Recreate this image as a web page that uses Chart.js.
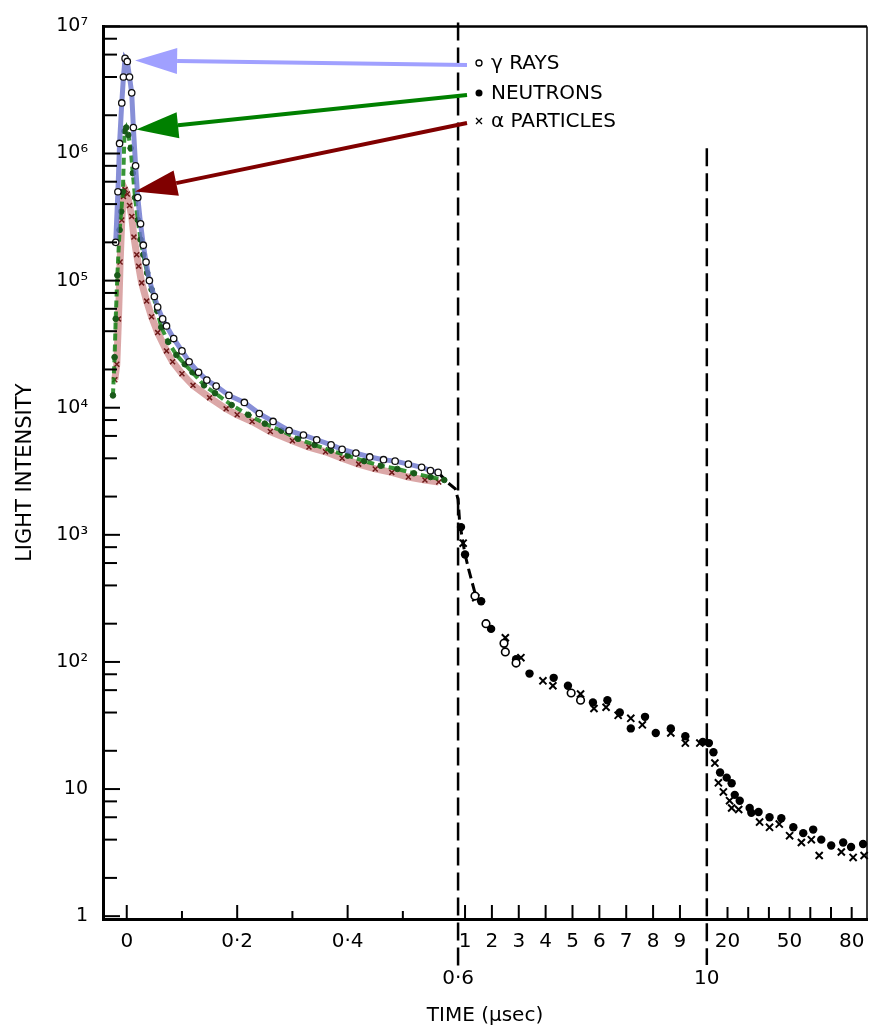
<!DOCTYPE html>
<html>
<head>
<meta charset="utf-8">
<title>Light intensity vs time</title>
<script src="https://cdn.jsdelivr.net/npm/chart.js@4.4.1/dist/chart.umd.min.js"></script>
<style>
  html, body { margin: 0; padding: 0; background: #fff; }
  #chart { display: block; }
</style>
</head>
<body>
<canvas id="chart" width="874" height="1034"></canvas>
<script>
// --- data (time in µs, light intensity) ---

// first 0.6 µs, traced with coloured lines
const gammaEarlyTime = [-0.02, -0.016, -0.013, -0.009, -0.006, -0.003, 0.001, 0.005, 0.009, 0.012, 0.016, 0.02, 0.025, 0.03, 0.035, 0.041, 0.05, 0.056, 0.065, 0.072, 0.085, 0.1, 0.113, 0.13, 0.145, 0.162, 0.185, 0.213, 0.24, 0.265, 0.294, 0.32, 0.344, 0.37, 0.39, 0.415, 0.44, 0.465, 0.486, 0.51, 0.534, 0.55, 0.564];
const gammaEarlyLight = [2e5, 5e5, 1.2e6, 2.5e6, 4e6, 5.6e6, 5.3e6, 4e6, 3e6, 1.6e6, 8e5, 4.5e5, 2.8e5, 1.9e5, 1.4e5, 1.0e5, 7.5e4, 6.2e4, 5e4, 4.4e4, 3.5e4, 2.8e4, 2.3e4, 1.9e4, 1.65e4, 1.48e4, 1.25e4, 1.1e4, 9e3, 7.8e3, 6.6e3, 6.1e3, 5.6e3, 5.1e3, 4.7e3, 4.4e3, 4.1e3, 3.9e3, 3.8e3, 3.6e3, 3.4e3, 3.2e3, 3.1e3];

const neutronEarlyTime = [-0.025, -0.022, -0.02, -0.017, -0.013, -0.01, -0.007, -0.004, -0.001, 0.003, 0.007, 0.011, 0.015, 0.02, 0.025, 0.03, 0.037, 0.045, 0.055, 0.0625, 0.075, 0.09, 0.105, 0.119, 0.14, 0.16, 0.19, 0.22, 0.25, 0.28, 0.31, 0.34, 0.37, 0.4, 0.43, 0.46, 0.49, 0.52, 0.55, 0.575];
const neutronEarlyLight = [1.25e4, 2.5e4, 5e4, 1.1e5, 2.5e5, 3.5e5, 5e5, 1.5e6, 1.6e6, 1.4e6, 1.1e6, 7e5, 4.5e5, 3e5, 2.1e5, 1.6e5, 1.15e5, 8.5e4, 5.8e4, 4.3e4, 3.3e4, 2.6e4, 2.2e4, 1.9e4, 1.5e4, 1.3e4, 1.05e4, 8.8e3, 7.5e3, 6.6e3, 5.7e3, 5.1e3, 4.6e3, 4.2e3, 3.8e3, 3.5e3, 3.3e3, 3.05e3, 2.85e3, 2.7e3];

const alphaEarlyTime = [-0.0216, -0.018, -0.015, -0.012, -0.009, -0.006, -0.003, 0.001, 0.005, 0.009, 0.013, 0.018, 0.0216, 0.027, 0.036, 0.045, 0.056, 0.072, 0.083, 0.1, 0.12, 0.15, 0.18, 0.2, 0.227, 0.26, 0.3, 0.33, 0.36, 0.39, 0.42, 0.45, 0.48, 0.51, 0.54, 0.565];
const alphaEarlyLight = [1.66e4, 2.2e4, 5e4, 1.4e5, 3e5, 4.6e5, 5.2e5, 4.8e5, 3.9e5, 3.2e5, 2.2e5, 1.6e5, 1.3e5, 9.6e4, 6.9e4, 5.2e4, 3.9e4, 2.8e4, 2.3e4, 1.85e4, 1.5e4, 1.2e4, 9.8e3, 8.8e3, 7.8e3, 6.5e3, 5.5e3, 4.9e3, 4.5e3, 4.0e3, 3.6e3, 3.3e3, 3.1e3, 2.85e3, 2.7e3, 2.6e3];

// black trace across the first break
const traceTime = [0.564, 0.58, 0.595, 0.6, 0.8, 1.0, 1.15, 1.4];
const traceLight = [3.1e3, 2.6e3, 2.3e3, 1.9e3, 1.25e3, 700, 520, 330];

// after 0.6 µs, points only
const gammaLateTime = [1.37, 1.78, 2.45, 2.5, 2.9, 4.95, 5.3];
const gammaLateLight = [330, 200, 140, 120, 98, 57, 50];

const neutronLateTime = [0.85, 1.0, 1.6, 1.97, 2.9, 3.4, 4.3, 4.83, 5.76, 6.3, 6.76, 7.17, 7.7, 8.1, 8.66, 9.2, 9.85, 11, 13.2, 16.4, 19.6, 22, 23.5, 25.9, 30.7, 31.5, 35, 40.3, 46, 51.8, 56.6, 61.4, 65.3, 70.1, 75.9, 79.7, 85.5];
const neutronLateLight = [1150, 700, 300, 182, 105, 81, 75, 65, 48, 50, 40, 30, 37, 27.6, 30, 26, 23.5, 23, 19.5, 13.5, 12.3, 11.1, 9, 8.1, 7.1, 6.5, 6.6, 6, 5.9, 5, 4.5, 4.8, 4, 3.6, 3.8, 3.5, 3.7];

const alphaLateTime = [0.93, 1.4, 2.5, 3.08, 3.9, 4.27, 5.3, 5.8, 6.25, 6.7, 7.17, 7.6, 8.66, 9.2, 9.74, 13.9, 15.6, 18, 21, 22, 25.4, 35.5, 40.3, 45, 50, 55.7, 60.5, 64.3, 75, 80.7, 86];
const alphaLateLight = [860, 320, 155, 108, 71, 65, 56, 43, 44, 38, 36, 32, 27.6, 23, 23, 16, 11.2, 9.5, 8.1, 7.1, 6.9, 5.5, 5, 5.3, 4.3, 3.8, 4, 3.0, 3.2, 2.9, 3.0];

const seriesNames = ['γ RAYS', 'NEUTRONS', 'α PARTICLES'];

// axis ticks
const xTickValues = [0, 0.1, 0.2, 0.3, 0.4, 0.5, 0.6, 1, 2, 3, 4, 5, 6, 7, 8, 9, 10, 20, 30, 40, 50, 60, 70, 80];
const xTickLabels = ['0', '', '0·2', '', '0·4', '', ['', '0·6'], '1', '2', '3', '4', '5', '6', '7', '8', '9', ['', '10'], '20', '', '', '50', '', '', '80'];
const xMinorTicks = [0.1, 0.3, 0.5];
const xBreaks = [0.6, 10];
const yTickValues = [1, 2, 4, 6, 8, 10, 20, 40, 60, 80, 100, 200, 400, 600, 800, 1e3, 2e3, 4e3, 6e3, 8e3, 1e4, 2e4, 4e4, 6e4, 8e4, 1e5, 2e5, 4e5, 6e5, 8e5, 1e6, 2e6, 4e6, 6e6, 8e6, 1e7];
const yDecadeLabels = ['1', '10', '10²', '10³', '10⁴', '10⁵', '10⁶', '10⁷'];

// --- broken time axis: 0-0.6 µs, 1-10 µs and 10-87 µs each on their own linear stretch ---
const X_MIN = -0.043;
const X_MAX = 87.4;
const EARLY_RATE = 555;   // px per µs up to 0.6
const MID_RATE = 27;      // px per µs from 1 to 10
const LATE_RATE = 2.08;   // px per µs after 10
const BREAK1_U = (0.6 - X_MIN) * EARLY_RATE;
const ONE_U = BREAK1_U + 7;
const TEN_U = ONE_U + 9 * MID_RATE;

function timeToU(t) {
  if (t <= 0.6) return (t - X_MIN) * EARLY_RATE;
  if (t <= 10) return ONE_U + (t - 1) * MID_RATE;
  return TEN_U + (t - 10) * LATE_RATE;
}

function uToTime(u) {
  if (u <= BREAK1_U) return u / EARLY_RATE + X_MIN;
  if (u <= TEN_U) return 1 + (u - ONE_U) / MID_RATE;
  return 10 + (u - TEN_U) / LATE_RATE;
}

class BrokenTimeScale extends Chart.LinearScale {
  static id = 'brokenTime';
  determineDataLimits() {
    this.min = timeToU(X_MIN);
    this.max = timeToU(X_MAX);
  }
  buildTicks() {
    this.start = this.min;
    this.end = this.max;
    return xTickValues.map(v => ({ value: v }));
  }
  getPixelForValue(value) {
    return super.getPixelForValue(timeToU(value));
  }
  getValueForPixel(pixel) {
    return uToTime(super.getValueForPixel(pixel));
  }
}
Chart.register(BrokenTimeScale);

const FONT = "'DejaVu Sans', sans-serif";

function points(times, values) {
  return times.map((t, i) => ({ x: t, y: values[i] }));
}

function peakOf(times, values) {
  let k = 0;
  values.forEach((v, i) => { if (v > values[k]) k = i; });
  return { x: times[k], y: values[k] };
}

// inward tick marks, top/right frame and the dashed break lines
const frameAndBreaks = {
  id: 'frameAndBreaks',
  afterDatasetsDraw(chart) {
    const { ctx, chartArea: a, scales: { x, y } } = chart;
    ctx.save();
    ctx.strokeStyle = '#000';
    ctx.lineWidth = 2.5;
    ctx.beginPath();
    ctx.moveTo(a.left, a.top);
    ctx.lineTo(a.right, a.top);
    ctx.stroke();
    ctx.lineWidth = 1.5;
    ctx.beginPath();
    ctx.moveTo(a.right, a.top);
    ctx.lineTo(a.right, a.bottom);
    ctx.stroke();

    ctx.lineWidth = 2;
    y.ticks.forEach(t => {
      const py = y.getPixelForValue(t.value);
      const d = Math.round(Math.log10(t.value));
      const len = Math.abs(t.value - Math.pow(10, d)) < 1e-6 * t.value ? 17 : 14;
      ctx.beginPath();
      ctx.moveTo(a.left, py);
      ctx.lineTo(a.left + len, py);
      ctx.stroke();
    });
    x.ticks.forEach(t => {
      if (xBreaks.includes(t.value)) return;
      const px = x.getPixelForValue(t.value);
      const len = xMinorTicks.includes(t.value) ? 8 : (t.value > 10 ? 12 : 14);
      ctx.beginPath();
      ctx.moveTo(px, a.bottom);
      ctx.lineTo(px, a.bottom - len);
      ctx.stroke();
    });

    ctx.setLineDash([18, 7]);
    ctx.lineWidth = 2.5;
    const b1 = x.getPixelForValue(xBreaks[0]);
    ctx.beginPath();
    ctx.moveTo(b1, a.top - 4);
    ctx.lineTo(b1, a.bottom + 50);
    ctx.stroke();
    const b2 = x.getPixelForValue(xBreaks[1]);
    ctx.beginPath();
    ctx.moveTo(b2, y.getPixelForValue(1.1e6));
    ctx.lineTo(b2, a.bottom + 46);
    ctx.stroke();
    ctx.restore();
  }
};

// legend next to the first break with arrows pointing at each peak
const legendArrows = {
  id: 'legendArrows',
  afterDraw(chart) {
    const { ctx, scales: { x, y } } = chart;
    const peaks = [
      peakOf(gammaEarlyTime, gammaEarlyLight),
      peakOf(neutronEarlyTime, neutronEarlyLight),
      peakOf(alphaEarlyTime, alphaEarlyLight)
    ];
    const arrowColors = ['rgb(160,160,255)', 'rgb(0,128,0)', 'rgb(128,0,0)'];
    const legendX = 479;
    const rowY = [63, 93, 121];

    ctx.save();
    peaks.forEach((p, i) => {
      const tipX = x.getPixelForValue(p.x) + 10;
      const tipY = y.getPixelForValue(p.y) + 2;
      const sx = legendX - 12, sy = rowY[i] + 2;
      const dx = sx - tipX, dy = sy - tipY;
      const len = Math.hypot(dx, dy);
      const ux = dx / len, uy = dy / len;
      const bx = tipX + ux * 42, by = tipY + uy * 42;
      ctx.strokeStyle = arrowColors[i];
      ctx.fillStyle = arrowColors[i];
      ctx.lineWidth = 4;
      ctx.beginPath();
      ctx.moveTo(sx, sy);
      ctx.lineTo(bx, by);
      ctx.stroke();
      ctx.beginPath();
      ctx.moveTo(tipX, tipY);
      ctx.lineTo(bx - uy * 13, by + ux * 13);
      ctx.lineTo(bx + uy * 13, by - ux * 13);
      ctx.closePath();
      ctx.fill();
    });

    ctx.fillStyle = '#000';
    ctx.strokeStyle = '#000';
    ctx.lineWidth = 1.3;
    // open circle
    ctx.beginPath();
    ctx.arc(legendX, rowY[0], 3, 0, Math.PI * 2);
    ctx.stroke();
    // dot
    ctx.beginPath();
    ctx.arc(legendX, rowY[1], 3.5, 0, Math.PI * 2);
    ctx.fill();
    // cross
    ctx.beginPath();
    ctx.moveTo(legendX - 3, rowY[2] - 3);
    ctx.lineTo(legendX + 3, rowY[2] + 3);
    ctx.moveTo(legendX + 3, rowY[2] - 3);
    ctx.lineTo(legendX - 3, rowY[2] + 3);
    ctx.stroke();

    ctx.font = '20px ' + FONT;
    ctx.textBaseline = 'middle';
    ctx.textAlign = 'left';
    seriesNames.forEach((name, i) => ctx.fillText(name, legendX + 12, rowY[i] + 1));
    ctx.restore();
  }
};

const ctx = document.getElementById('chart').getContext('2d');
new Chart(ctx, {
  type: 'line',
  data: {
    datasets: [
      {
        label: seriesNames[0],
        data: points(gammaEarlyTime, gammaEarlyLight),
        borderColor: 'rgba(105,115,205,0.8)',
        borderWidth: 5,
        pointStyle: 'circle',
        pointRadius: 3.2,
        pointBorderWidth: 1.3,
        pointBorderColor: '#111',
        pointBackgroundColor: '#fff'
      },
      {
        label: seriesNames[1],
        data: points(neutronEarlyTime, neutronEarlyLight),
        borderColor: 'rgba(20,130,20,0.85)',
        borderWidth: 4,
        borderDash: [7, 4],
        pointStyle: 'circle',
        pointRadius: 2.8,
        pointBorderWidth: 1,
        pointBorderColor: 'rgb(25,90,25)',
        pointBackgroundColor: 'rgb(25,90,25)'
      },
      {
        label: seriesNames[2],
        data: points(alphaEarlyTime, alphaEarlyLight),
        borderColor: 'rgba(190,95,95,0.55)',
        borderWidth: 7,
        pointStyle: 'crossRot',
        pointRadius: 3.5,
        pointBorderWidth: 1.5,
        pointBorderColor: 'rgb(110,25,25)'
      },
      {
        label: 'trace',
        data: points(traceTime, traceLight),
        borderColor: '#000',
        borderWidth: 3,
        borderDash: [10, 5],
        pointRadius: 0
      },
      {
        label: seriesNames[0] + ' late',
        data: points(gammaLateTime, gammaLateLight),
        showLine: false,
        pointStyle: 'circle',
        pointRadius: 3.8,
        pointBorderWidth: 1.6,
        pointBorderColor: '#000',
        pointBackgroundColor: '#fff'
      },
      {
        label: seriesNames[1] + ' late',
        data: points(neutronLateTime, neutronLateLight),
        showLine: false,
        pointStyle: 'circle',
        pointRadius: 4.2,
        pointBorderWidth: 0,
        pointBackgroundColor: '#000'
      },
      {
        label: seriesNames[2] + ' late',
        data: points(alphaLateTime, alphaLateLight),
        showLine: false,
        pointStyle: 'crossRot',
        pointRadius: 5,
        pointBorderWidth: 2,
        pointBorderColor: '#000'
      }
    ]
  },
  options: {
    responsive: false,
    animation: false,
    devicePixelRatio: 1,
    layout: { padding: { top: 21, right: 3, left: 0, bottom: 0 } },
    plugins: {
      legend: { display: false },
      tooltip: { enabled: false }
    },
    scales: {
      x: {
        type: 'brokenTime',
        position: 'bottom',
        grid: { display: false, drawTicks: false },
        border: { display: true, color: '#000', width: 3 },
        ticks: {
          autoSkip: false,
          maxRotation: 0,
          minRotation: 0,
          padding: 4,
          color: '#000',
          font: { family: FONT, size: 20, lineHeight: '37px' },
          callback: (value, index) => xTickLabels[index]
        },
        title: {
          display: true,
          text: 'TIME (µsec)',
          color: '#000',
          font: { family: FONT, size: 20 },
          padding: { top: 0, bottom: 6 }
        },
        afterFit: (scale) => { scale.height = 115; }
      },
      y: {
        type: 'logarithmic',
        position: 'left',
        min: 0.95,
        max: 1e7,
        grid: { display: false, drawTicks: false },
        border: { display: true, color: '#000', width: 3 },
        afterBuildTicks: (scale) => {
          scale.ticks = yTickValues.map(v => ({ value: v }));
        },
        ticks: {
          autoSkip: false,
          padding: 15,
          color: '#000',
          font: { family: FONT, size: 19 },
          callback: (value) => {
            const d = Math.round(Math.log10(value));
            return Math.abs(value - Math.pow(10, d)) < 1e-6 * value ? yDecadeLabels[d] : '';
          }
        },
        title: {
          display: true,
          text: 'LIGHT INTENSITY',
          color: '#000',
          font: { family: FONT, size: 21 },
          padding: { top: 13, bottom: 0 }
        },
        afterFit: (scale) => { scale.width = 103; }
      }
    }
  },
  plugins: [frameAndBreaks, legendArrows]
});
</script>
</body>
</html>
